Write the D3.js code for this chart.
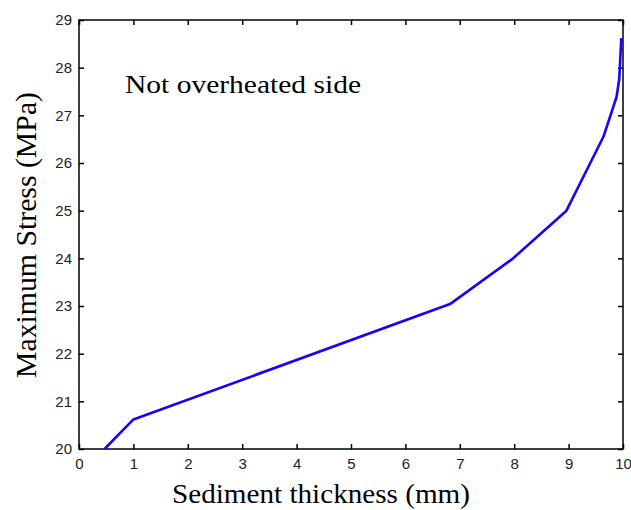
<!DOCTYPE html>
<html><head><meta charset="utf-8">
<script src="https://cdn.jsdelivr.net/npm/d3@7"></script>
<style>body{margin:0;background:#fff}svg{display:block}
.serif{font-family:"Liberation Serif","Times New Roman",Times,serif;}
.tick text{font-family:"Liberation Sans",Arial,sans-serif;}
</style>
</head><body>
<svg id="c" width="631" height="510"></svg>
<script>
const thickness = [0.47, 1.0, 6.82, 7.98, 8.96, 9.64, 9.88, 9.93, 9.97];
const stress    = [20.0, 20.62, 23.04, 24.0, 25.0, 26.55, 27.38, 27.75, 28.62];
const xTicks = [0,1,2,3,4,5,6,7,8,9,10];
const yTicks = [20,21,22,23,24,25,26,27,28,29];
const xLabel = "Sediment thickness (mm)";
const yLabel = "Maximum Stress (MPa)";
const note = "Not overheated side";

const svg = d3.select("#c");
const L=79, R=623, T=20, B=449;
const x = d3.scaleLinear().domain([0,10]).range([L,R]);
const y = d3.scaleLinear().domain([20,29]).range([B,T]);

function styleAxis(g){
  g.select(".domain").remove();
  g.selectAll("line").attr("stroke","#000").attr("stroke-width",1.5);
  g.selectAll("text").attr("font-size",15).attr("fill","#222");
}
svg.append("g").attr("transform",`translate(0,${B})`)
  .call(d3.axisBottom(x).tickValues(xTicks).tickSize(-5).tickPadding(9).tickFormat(d3.format("d")))
  .call(styleAxis);
svg.append("g").attr("transform",`translate(0,${T})`)
  .call(d3.axisTop(x).tickValues(xTicks).tickSize(-5).tickFormat(""))
  .call(styleAxis);
svg.append("g").attr("transform",`translate(${L},0)`)
  .call(d3.axisLeft(y).tickValues(yTicks).tickSize(-5).tickPadding(7).tickFormat(d3.format("d")))
  .call(styleAxis);
svg.append("g").attr("transform",`translate(${R},0)`)
  .call(d3.axisRight(y).tickValues(yTicks).tickSize(-5).tickFormat(""))
  .call(styleAxis);

svg.append("rect").attr("x",L).attr("y",T).attr("width",R-L).attr("height",B-T)
  .attr("fill","none").attr("stroke","#000").attr("stroke-width",1.5);

const pts = thickness.map((d,i)=>[d,stress[i]]);
svg.append("path").datum(pts)
  .attr("d", d3.line().x(d=>x(d[0])).y(d=>y(d[1])))
  .attr("fill","none").attr("stroke","#1a00ff").attr("stroke-width",2.6)
  .attr("stroke-linejoin","round");

svg.append("text").attr("class","serif").attr("x",125).attr("y",93).text(note)
  .attr("font-size",26).attr("fill","#000")
  .attr("textLength",236).attr("lengthAdjust","spacingAndGlyphs");

svg.append("text").attr("class","serif").attr("x",172).attr("y",503).text(xLabel)
  .attr("font-size",28).attr("fill","#000")
  .attr("textLength",298).attr("lengthAdjust","spacingAndGlyphs");

svg.append("text").attr("class","serif").attr("transform","translate(36,378) rotate(-90)").text(yLabel)
  .attr("font-size",30).attr("fill","#000")
  .attr("textLength",286).attr("lengthAdjust","spacingAndGlyphs");
</script>
</body></html>
